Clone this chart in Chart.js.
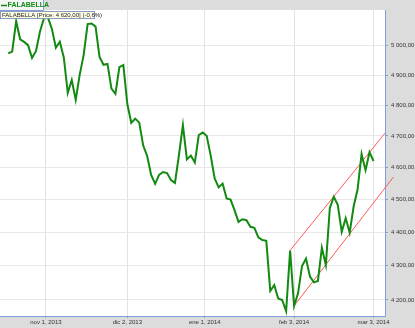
<!DOCTYPE html>
<html>
<head>
<meta charset="utf-8">
<script src="https://cdn.jsdelivr.net/npm/chart.js@4/dist/chart.umd.min.js"></script>
<style>
    html, body { margin: 0; padding: 0; background: #dcdcdc; }
    canvas { display: block; }
</style>
</head>
<body>
<canvas id="priceChart" width="415" height="328"></canvas>
<script>
// Daily closing prices, one per trading day
var seriesName = "FALABELLA";
var prices = [
    4974, 4980, 5085, 5022, 5013, 5002, 4958, 4982, 5049, 5095,
    5097, 5058, 4993, 5014, 4960, 4841, 4884, 4818, 4901, 4968,
    5075, 5077, 5066, 4962, 4935, 4938, 4855, 4838, 4927, 4934,
    4804, 4742, 4756, 4743, 4669, 4636, 4576, 4548, 4576, 4585,
    4582, 4560, 4551, 4639, 4735, 4625, 4637, 4615, 4703, 4711,
    4700, 4637, 4565, 4537, 4549, 4503, 4499, 4467, 4431, 4439,
    4436, 4416, 4413, 4384, 4376, 4374, 4226, 4243, 4204, 4200,
    4168, 4345, 4183, 4219, 4299, 4321, 4268, 4251, 4255, 4353,
    4302, 4473, 4508, 4483, 4401, 4442, 4398, 4478, 4531, 4642,
    4591, 4648, 4620
];

// date labels sit at these trading-day positions (holidays fall between days)
var dateTicks = [9.5, 30, 49.5, 72, 92];
var dateLabels = ["nov 1, 2013", "dic 2, 2013", "ene 1, 2014", "feb 3, 2014", "mar 3, 2014"];
var priceTicks = [4200, 4300, 4400, 4500, 4600, 4700, 4800, 4900, 5000];

// trend channel drawn by hand on the original
var channelTop = [[71, 4345], [94.9, 4709]];
var channelBottom = [[72, 4183], [97, 4569]];

function fmtPrice(v) {
    var parts = v.toFixed(2).split(".");
    return parts[0].replace(/\B(?=(\d{3})+(?!\d))/g, " ") + "," + parts[1];
}

var last = prices[prices.length - 1];
var prev = prices[prices.length - 2];
var change = ((last - prev) / prev * 100).toFixed(1).replace(".", ",");

var frame = {
    id: "frame",
    beforeDraw: function (chart) {
        var ctx = chart.ctx, a = chart.chartArea;
        ctx.save();
        ctx.fillStyle = "#dcdcdc";
        ctx.fillRect(0, 0, chart.width, chart.height);
        ctx.fillStyle = "#ffffff";
        ctx.fillRect(a.left, a.top, a.right - a.left, a.bottom - a.top);
        ctx.restore();
    },
    afterDraw: function (chart) {
        var ctx = chart.ctx;
        ctx.save();
        // legend tab
        ctx.fillStyle = "#f4f4f4";
        ctx.fillRect(0, 0, 43, 10);
        ctx.strokeStyle = "#7f9fd8";
        ctx.lineWidth = 1;
        ctx.beginPath();
        ctx.moveTo(43.5, 0);
        ctx.lineTo(43.5, 10.5);
        ctx.lineTo(0, 10.5);
        ctx.stroke();
        ctx.strokeStyle = "#128a12";
        ctx.lineWidth = 1.5;
        ctx.beginPath();
        ctx.moveTo(1, 5.5);
        ctx.lineTo(7, 5.5);
        ctx.stroke();
        ctx.fillStyle = "#128a12";
        ctx.font = "bold 7px 'Liberation Sans'";
        ctx.textBaseline = "middle";
        ctx.fillText(seriesName, 7.5, 5.5);
        // price box
        ctx.fillStyle = "#ffffe6";
        ctx.fillRect(0, 11, 95, 8);
        ctx.strokeStyle = "#8a9bc0";
        ctx.lineWidth = 1;
        ctx.strokeRect(0.5, 11.5, 94, 7);
        ctx.fillStyle = "#222";
        ctx.font = "6px 'Liberation Sans'";
        ctx.fillText(seriesName + " [Price: " + fmtPrice(last) + "] (" + change + "%)", 2, 15.5);
        ctx.restore();
    }
};

new Chart("priceChart", {
    type: "line",
    data: {
        datasets: [{
            label: seriesName,
            data: prices.map(function (p, i) { return { x: i, y: p }; }),
            borderColor: "#128a12",
            borderWidth: 2,
            pointRadius: 0,
            tension: 0
        }, {
            data: channelTop.map(function (p) { return { x: p[0], y: p[1] }; }),
            borderColor: "#ff5a5a",
            borderWidth: 1,
            pointRadius: 0,
            clip: false
        }, {
            data: channelBottom.map(function (p) { return { x: p[0], y: p[1] }; }),
            borderColor: "#ff5a5a",
            borderWidth: 1,
            pointRadius: 0,
            clip: false
        }]
    },
    options: {
        responsive: false,
        animation: false,
        layout: { padding: { top: 10, left: 0, right: 0, bottom: 0 } },
        plugins: {
            legend: { display: false },
            tooltip: { enabled: false }
        },
        scales: {
            x: {
                type: "linear",
                min: -2.07,
                max: 94.9,
                afterBuildTicks: function (scale) {
                    scale.ticks = dateTicks.map(function (v) { return { value: v }; });
                },
                afterFit: function (scale) { scale.height = 12; },
                grid: { color: "#e2e2e2", tickColor: "#7f9fd8", tickLength: 2 },
                border: { color: "#7f9fd8", width: 1 },
                ticks: {
                    autoSkip: false,
                    maxRotation: 0,
                    padding: 1,
                    color: "#333",
                    font: { size: 6, family: "Liberation Sans" },
                    callback: function (v) { return dateLabels[dateTicks.indexOf(v)]; }
                }
            },
            y: {
                type: "logarithmic",
                position: "right",
                min: 4154,
                max: 5124,
                afterBuildTicks: function (scale) {
                    scale.ticks = priceTicks.map(function (v) { return { value: v }; });
                },
                afterFit: function (scale) { scale.width = 30; },
                grid: { color: "#e8e8e8", tickColor: "#7f9fd8", tickLength: 3 },
                border: { color: "#7f9fd8", width: 1 },
                ticks: {
                    padding: 3,
                    color: "#333",
                    font: { size: 6, family: "Liberation Sans" },
                    callback: function (v) { return fmtPrice(v); }
                }
            }
        }
    },
    plugins: [frame]
});
</script>
</body>
</html>
